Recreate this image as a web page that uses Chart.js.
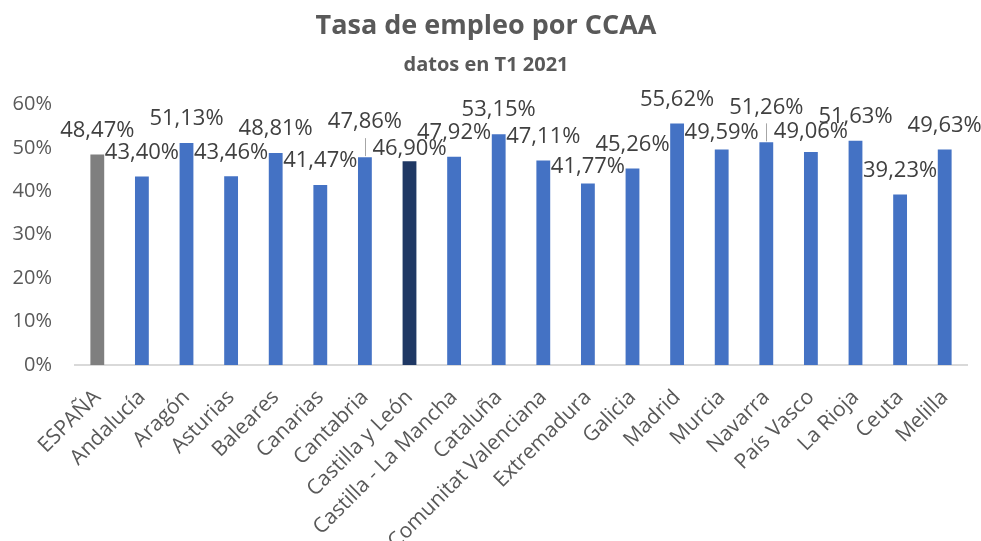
<!DOCTYPE html>
<html>
<head>
<meta charset="utf-8">
<script src="https://cdn.jsdelivr.net/npm/chart.js@4"></script>
<style>
  html, body { margin: 0; padding: 0; background: #fff; overflow: hidden; }
  #wrap { width: 981px; height: 541px; overflow: hidden; }
</style>
</head>
<body>
<div id="wrap"><canvas id="empleoChart" width="981" height="541"></canvas></div>
<script>
// === Data ===
const regiones = [
  "ESPAÑA", "Andalucía", "Aragón", "Asturias", "Baleares", "Canarias",
  "Cantabria", "Castilla y León", "Castilla - La Mancha", "Cataluña",
  "Comunitat Valenciana", "Extremadura", "Galicia", "Madrid", "Murcia",
  "Navarra", "País Vasco", "La Rioja", "Ceuta", "Melilla"
];
const tasaEmpleo = [
  48.47, 43.40, 51.13, 43.46, 48.81, 41.47,
  47.86, 46.90, 47.92, 53.15,
  47.11, 41.77, 45.26, 55.62, 49.59,
  51.26, 49.06, 51.63, 39.23, 49.63
];
const yTicks = [0, 10, 20, 30, 40, 50, 60];

// === Colours: national total in grey, Castilla y León highlighted ===
const barColors = regiones.map(r => {
  if (r === "ESPAÑA") return "#7f7f7f";
  if (r === "Castilla y León") return "#1f3864";
  return "#4472c4";
});

// === Labels that were moved by hand in the original (to avoid overlaps) ===
const labelNudge = {
  "Cantabria": { dy: -11, leader: true },
  "Castilla y León": { dy: 11 },
  "Extremadura": { dy: 7 },
  "Murcia": { dy: 7 },
  "Navarra": { dy: -11, leader: true },
  "País Vasco": { dy: 4 }
};

const fontFamily = "'Open Sans', 'Noto Sans', sans-serif";

// === Value labels above each bar ===
const valueLabels = {
  id: "valueLabels",
  afterDatasetsDraw(chart) {
    const ctx = chart.ctx;
    const meta = chart.getDatasetMeta(0);
    ctx.save();
    ctx.font = "22px " + fontFamily;
    ctx.textAlign = "center";
    ctx.textBaseline = "middle";
    meta.data.forEach((bar, i) => {
      const nudge = labelNudge[regiones[i]] || { dy: 0 };
      const y = bar.y - 24 + nudge.dy;
      if (nudge.leader) {
        ctx.strokeStyle = "#a6a6a6";
        ctx.lineWidth = 1;
        ctx.beginPath();
        ctx.moveTo(Math.round(bar.x) + 0.5, y + 16);
        ctx.lineTo(Math.round(bar.x) + 0.5, bar.y - 1);
        ctx.stroke();
      }
      const txt = tasaEmpleo[i].toFixed(2).replace(".", ",") + "%";
      ctx.fillStyle = "#404040";
      ctx.fillText(txt, bar.x, y);
    });
    ctx.restore();
  }
};

new Chart(document.getElementById("empleoChart").getContext("2d"), {
  type: "bar",
  data: {
    labels: regiones,
    datasets: [{
      data: tasaEmpleo,
      backgroundColor: barColors,
      barPercentage: 0.31,
      categoryPercentage: 1.0
    }]
  },
  options: {
    responsive: false,
    animation: false,
    layout: { padding: { left: 5, right: 14, top: 0, bottom: 0 } },
    plugins: {
      legend: { display: false },
      tooltip: { enabled: false },
      title: {
        display: true,
        text: "Tasa de empleo por CCAA",
        color: "#595959",
        font: { family: fontFamily, size: 27, weight: "bold" },
        padding: { top: 10, bottom: 0 }
      },
      subtitle: {
        display: true,
        text: "datos en T1 2021",
        color: "#595959",
        font: { family: fontFamily, size: 20, weight: "bold" },
        padding: { top: 11, bottom: 27 }
      }
    },
    scales: {
      x: {
        grid: { display: false },
        border: { display: true, color: "#d9d9d9", width: 2 },
        ticks: {
          color: "#595959",
          font: { family: fontFamily, size: 21 },
          autoSkip: false,
          maxRotation: 45,
          minRotation: 45,
          padding: 12
        },
        // labels run off the bottom edge like in the original
        afterFit: axis => { axis.height = 176; axis.paddingLeft = 0; axis.paddingRight = 0; }
      },
      y: {
        min: 0,
        max: 60,
        grid: { display: false, drawTicks: false },
        border: { display: false },
        afterBuildTicks: axis => { axis.ticks = yTicks.map(v => ({ value: v })); },
        afterFit: axis => { axis.width = 70; },
        ticks: {
          color: "#595959",
          font: { family: fontFamily, size: 20 },
          padding: 23,
          callback: v => v + "%"
        }
      }
    }
  },
  plugins: [valueLabels]
});
</script>
</body>
</html>
